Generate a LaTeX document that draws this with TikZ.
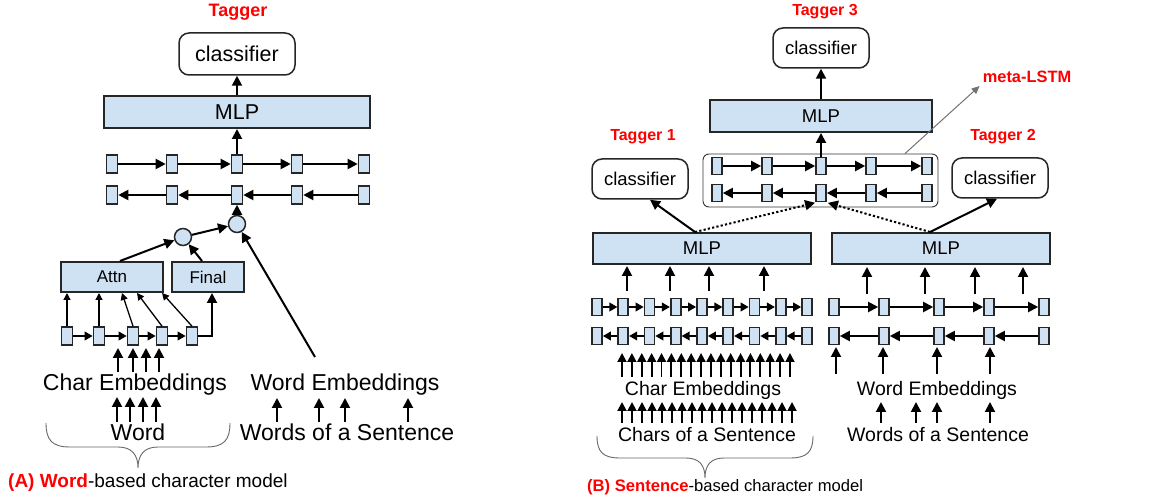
\documentclass[tikz,border=0pt]{standalone}
\usepackage{fontspec}
\setmainfont{Liberation Sans}
\usetikzlibrary{arrows.meta,calc}
\definecolor{boxblue}{HTML}{CFE2F3}
\definecolor{tagred}{HTML}{FF0000}
\definecolor{edge}{HTML}{262626}
\newcommand\fsz[1]{\fontsize{#1}{#1}\selectfont}
\begin{document}
\begin{tikzpicture}[x=1pt,y=-1pt,
  box/.style={draw=edge, line width=2pt, fill=boxblue, inner sep=0pt},
  clsbox/.style={draw=edge, line width=1.5pt, rounded corners=10pt, fill=white, inner sep=0pt},
  sq/.style={draw=edge, line width=1.6pt, fill=boxblue, inner sep=0pt, minimum width=11pt, minimum height=18pt},
  sqs/.style={sq, minimum width=10pt, minimum height=17pt},
  cir/.style={circle, draw=edge, line width=1.5pt, fill=boxblue, inner sep=0pt, minimum size=17pt},
  arr/.style={line width=2pt, -{Triangle[length=10pt,width=10pt]}},
  arrm/.style={line width=1.9pt, -{Triangle[length=8pt,width=8.5pt]}},
  arrb/.style={line width=1.9pt, -{Triangle[length=9pt,width=9pt]}},
  arrs/.style={line width=1.3pt, -{Triangle[length=7pt,width=7pt]}},
  dotarr/.style={line width=2pt, dash pattern=on 2.2pt off 2.2pt, -{Triangle[length=10pt,width=10pt]}},
  tag/.style={text=tagred, inner sep=0pt},
  lbl/.style={inner sep=0pt},
]
\useasboundingbox (0,0) rectangle (1157,502);

% ================= (A) =================
\node[tag, font=\bfseries\fsz{18}] (tagA) at (238,12) {Tagger};
\node[clsbox, minimum width=116pt, minimum height=42pt, font=\fsz{21.5}] (clsA) at (237,54) {classifier};
\node[box, minimum width=266pt, minimum height=32pt, font=\fsz{21.5}] (mlpA) at (237,112) {MLP};
\foreach \x [count=\i] in {112,172,237,297,364} {
  \node[sq] (fA\i) at (\x,164) {};
  \node[sq] (bA\i) at (\x,195) {};
}
\foreach \i/\j in {1/2,2/3,3/4,4/5} {
  \draw[arr] (fA\i) -- (fA\j);
  \draw[arr] (bA\j) -- (bA\i);
}
\draw[arr] (fA3) -- (mlpA);
\draw[arr] (mlpA) -- (clsA);
\node[cir] (c2) at (237,224) {};
\node[cir] (c1) at (183,237) {};
\draw[arr] (c2) -- (bA3);
\draw[arr] (c1) -- (c2);
\node[box, minimum width=102pt, minimum height=30pt, font=\fsz{17}] (attn) at (112,277) {Attn};
\node[box, minimum width=72pt, minimum height=30pt, font=\fsz{17}] (final) at (208,277) {Final};
\draw[arr] ([xshift=8pt]attn.north) -- (c1);
\draw[arr] ([xshift=-6pt]final.north) -- (c1);
\foreach \x [count=\i] in {67,99,133,162,192} {
  \node[sq] (cA\i) at (\x,336) {};
}
\foreach \i/\j in {1/2,2/3,3/4,4/5} {
  \draw[arrm] (cA\i) -- (cA\j);
}
\draw[arrs] (cA1) -- (cA1 |- attn.south);
\draw[arrs] (cA2) -- (cA2 |- attn.south);
\draw[arrs] (cA3.north) -- ([xshift=10pt]attn.south);
\draw[arrs] (cA4.north) -- ([xshift=25pt]attn.south);
\draw[arrs] (cA5.north) -- ([xshift=50pt]attn.south);
\draw[arr] (cA5.east) -| ([xshift=4pt]final.south);

\node[lbl, font=\fsz{23}] (ceA) at (135,385) {Char Embeddings};
\node[lbl, font=\fsz{23}] (wA) at (138,432) {Word};
\node[lbl, font=\fsz{23}] (weA) at (345,385) {Word Embeddings};
\node[lbl, font=\fsz{23}] (wsA) at (347,432) {Words of a Sentence};
\foreach \x in {118,133,146,159} \draw[arr] (\x,372) -- (\x,348);
\foreach \x in {117,130,143,156} \draw[arr] (\x,422) -- (\x,397);
\foreach \x in {277,319,345,408} \draw[arr] (\x,422) -- (\x,398);
\coordinate (weAtip) at (315,357);
\draw[arr] (weAtip) -- (c2);

\draw[black!60, line width=0.9pt] (46,423) .. controls (46,440) and (52,447) .. (70,447) -- (118,447) .. controls (132,447) and (138,455) .. (138,468) .. controls (138,455) and (144,447) .. (158,447) -- (206,447) .. controls (224,447) and (230,440) .. (230,423);
\node[lbl, anchor=west, font=\fsz{19}] (capA) at (8,483) {\textcolor{tagred}{\bfseries (A) Word}-based character model};

% ================= (B) =================
\node[tag, font=\bfseries\fsz{16}] (tag3) at (825,12) {Tagger 3};
\node[clsbox, minimum width=96pt, minimum height=40pt, font=\fsz{18.5}] (cls3) at (821,48) {classifier};
\node[box, minimum width=222pt, minimum height=32pt, font=\fsz{18.5}] (mlp3) at (821,116) {MLP};
\node[draw=black!80, line width=0.9pt, rounded corners=6pt, minimum width=235pt, minimum height=53pt] (meta) at (820.5,180.5) {};
\foreach \x [count=\i] in {717,767,821,871,927} {
  \node[sq, minimum width=10pt, minimum height=17pt] (fB\i) at (\x,166) {};
  \node[sq, minimum width=10pt, minimum height=17pt] (bB\i) at (\x,193) {};
}
\foreach \i/\j in {1/2,2/3,3/4,4/5} {
  \draw[arr] (fB\i) -- (fB\j);
  \draw[arr] (bB\j) -- (bB\i);
}
\draw[arr] (fB3) -- (mlp3);
\draw[arr] (mlp3) -- (cls3);
\node[tag, font=\bfseries\fsz{16.4}] (metaL) at (1027,77) {meta-LSTM};
\draw[black!55, line width=1pt, -{Triangle[length=8pt,width=7pt]}] ([xshift=84.5pt]meta.north) -- ([xshift=-3pt,yshift=-3pt]metaL.south west);

\node[tag, font=\bfseries\fsz{16}] (tag1) at (643,137) {Tagger 1};
\node[clsbox, minimum width=96pt, minimum height=40pt, font=\fsz{18.5}] (cls1) at (640,179) {classifier};
\node[tag, font=\bfseries\fsz{16}] (tag2) at (1003,137) {Tagger 2};
\node[clsbox, minimum width=96pt, minimum height=40pt, font=\fsz{18.5}] (cls2) at (1000,178) {classifier};
\node[box, minimum width=218pt, minimum height=31pt, font=\fsz{18.5}] (mlp1) at (702,248.5) {MLP};
\node[box, minimum width=218pt, minimum height=31pt, font=\fsz{18.5}] (mlp2) at (941,248.5) {MLP};
\draw[arr] ([xshift=-7pt]mlp1.north) -- ([xshift=10pt]cls1.south);
\draw[dotarr, shorten >=2pt] ([xshift=-7pt]mlp1.north) -- ([xshift=-4pt]bB3.south);
\draw[dotarr, shorten >=2pt] ([xshift=-11pt]mlp2.north) -- ([xshift=5pt]bB3.south);
\draw[arr] ([xshift=-11pt]mlp2.north) -- ([xshift=-3pt]cls2.south);

% left B
\foreach \i in {0,...,8} {
  \node[sqs] (fC\i) at ({597+26.25*\i},307) {};
  \node[sqs] (bC\i) at ({597+26.25*\i},336) {};
}
\foreach \i/\j in {0/1,1/2,2/3,3/4,4/5,5/6,6/7,7/8} {
  \draw[arrm] (fC\i) -- (fC\j);
  \draw[arrm] (bC\j) -- (bC\i);
}
\foreach \x in {627,670,709,764} \draw[arr] (\x,291) -- (\x,266);
\node[lbl, font=\fsz{19.5}] (ceB) at (703,390) {Char Embeddings};
\node[lbl, font=\fsz{19.5}] (csB) at (707,435) {Chars of a Sentence};
\foreach \k in {0,...,17} \draw[arrb] ({622+9.88*\k},377) -- ({622+9.88*\k},353);
\foreach \k in {0,...,17} \draw[arrb] ({622+10*\k},423) -- ({622+10*\k},402);
\draw[black!60, line width=0.9pt] (597,436) .. controls (597,452) and (603,458) .. (620,458) -- (686,458) .. controls (700,458) and (705,466) .. (705,478) .. controls (705,466) and (710,458) .. (724,458) -- (790,458) .. controls (807,458) and (813,452) .. (813,436);
\node[lbl, anchor=west, font=\fsz{16.6}] (capB) at (587,487) {\textcolor{tagred}{\bfseries (B) Sentence}-based character model};

% right B
\foreach \x [count=\i] in {834,884,939,989,1044} {
  \node[sq, minimum width=10pt, minimum height=17pt] (fD\i) at (\x,307) {};
  \node[sq, minimum width=10pt, minimum height=17pt] (bD\i) at (\x,336) {};
}
\foreach \i/\j in {1/2,2/3,3/4,4/5} {
  \draw[arr] (fD\i) -- (fD\j);
  \draw[arr] (bD\j) -- (bD\i);
}
\foreach \x in {867,925,975,1023} \draw[arr] (\x,294) -- (\x,267);
\foreach \x in {836,883,937,990} \draw[arr] (\x,374) -- (\x,347);
\node[lbl, font=\fsz{19.5}] (weB) at (937,390) {Word Embeddings};
\node[lbl, font=\fsz{19.5}] (wsB) at (938,435) {Words of a Sentence};
\foreach \x in {881,916,937,990} \draw[arr] (\x,423) -- (\x,402);
\end{tikzpicture}
\end{document}
